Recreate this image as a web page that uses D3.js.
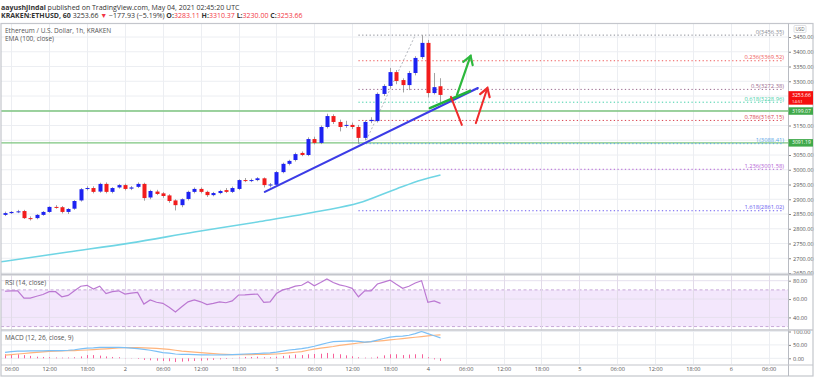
<!DOCTYPE html>
<html>
<head>
<meta charset="utf-8">
<script src="https://cdn.jsdelivr.net/npm/d3@7"></script>
<style>
body { margin: 0; background: #fff; }
svg { display: block; font-family: "Open Sans", "Noto Sans", sans-serif; }
</style>
</head>
<body>
<div id="chart"></div>
<script>

// ------- data -------

// hourly candles, first one is 2021-05-01 05:00 UTC : [open, high, low, close]
var candles = [
    [2847, 2858, 2843, 2853], [2853, 2860, 2850, 2857], [2857, 2864, 2853, 2859],
    [2860, 2864, 2833, 2836], [2836, 2842, 2828, 2835], [2836, 2850, 2832, 2847],
    [2847, 2860, 2844, 2857], [2857, 2876, 2854, 2874], [2874, 2880, 2868, 2873],
    [2873, 2877, 2852, 2857], [2857, 2870, 2850, 2867], [2868, 2897, 2864, 2894],
    [2896, 2938, 2892, 2934], [2935, 2944, 2930, 2938], [2938, 2944, 2920, 2925],
    [2926, 2956, 2922, 2952], [2952, 2957, 2920, 2925], [2925, 2941, 2920, 2938],
    [2940, 2952, 2936, 2948], [2948, 2953, 2930, 2935], [2936, 2945, 2931, 2940],
    [2942, 2957, 2938, 2952], [2952, 2956, 2895, 2904], [2906, 2932, 2900, 2928],
    [2926, 2932, 2914, 2918], [2920, 2924, 2905, 2911], [2913, 2917, 2888, 2894],
    [2896, 2900, 2862, 2880], [2880, 2903, 2873, 2900], [2901, 2929, 2896, 2925],
    [2925, 2940, 2920, 2935], [2935, 2940, 2920, 2925], [2925, 2929, 2908, 2914],
    [2914, 2925, 2910, 2921], [2921, 2932, 2917, 2928], [2931, 2938, 2921, 2925],
    [2925, 2943, 2921, 2938], [2935, 2968, 2931, 2965], [2965, 2972, 2958, 2963],
    [2963, 2970, 2958, 2965], [2965, 2975, 2961, 2971], [2971, 2974, 2940, 2948],
    [2948, 2955, 2940, 2950], [2949, 2996, 2945, 2992], [2992, 3024, 2988, 3020],
    [3020, 3034, 3015, 3030], [3033, 3058, 3028, 3053], [3057, 3062, 3046, 3050],
    [3050, 3110, 3046, 3104], [3104, 3112, 3086, 3091], [3091, 3150, 3087, 3145],
    [3145, 3190, 3140, 3182], [3182, 3188, 3155, 3162], [3162, 3170, 3130, 3145],
    [3150, 3166, 3142, 3152], [3152, 3160, 3138, 3145], [3145, 3152, 3088.41, 3108],
    [3108, 3168, 3100, 3162], [3165, 3178, 3158, 3169], [3165, 3262, 3160, 3257],
    [3257, 3290, 3250, 3284], [3284, 3345, 3278, 3331], [3331, 3338, 3290, 3301],
    [3304, 3310, 3262, 3287], [3287, 3335, 3270, 3328], [3328, 3385, 3320, 3379],
    [3382, 3456.35, 3375, 3430], [3430, 3440, 3245, 3260], [3260, 3328, 3255, 3280],
    [3283.11, 3310.37, 3230.00, 3253.66]
];
var change = -177.93, changePct = -5.19;

// EMA(100) sampled at candle indices
var ema100 = [[-2, 2684], [0, 2690], [10, 2721], [20, 2752], [30, 2789], [40, 2823],
              [50, 2860], [56, 2887], [62, 2935], [66, 2965], [69, 2982]];

var rsi = [68.5, 69, 69, 61, 61, 63, 65, 68, 68, 62.5, 64, 69, 74, 75, 71, 74, 66, 68,
           69, 65.5, 66.5, 67.3, 54.5, 59, 56.5, 55.3, 51, 46, 51.6, 57, 59, 57, 54,
           55.3, 57, 56, 58, 64.4, 64.5, 65, 65.5, 56.4, 57, 66, 70, 71.7, 74, 75,
           78.9, 74.5, 78, 81.8, 78, 75.5, 74, 71.7, 62.5, 69, 69, 76.4, 78.5, 80.7,
           76, 71.7, 74, 77.5, 80, 56.4, 58, 55.3];

var macd = [22, 25, 27, 27, 27.5, 28, 28, 28.6, 29, 29, 30, 32, 35, 38, 39, 41, 41, 41,
            40.5, 40, 38, 36, 33, 30, 26, 21, 19, 16, 15, 14.5, 14, 13, 12.5, 12.4, 12.5,
            13, 14, 15, 16, 17, 18, 19, 20, 23, 27, 31, 33, 36, 40, 45, 51, 57, 62, 63,
            64, 65, 63, 60, 62, 68, 74, 79, 82, 83, 86, 92, 100, 92, 84, 76];
var signal = [12, 14, 16, 18, 20, 22, 24, 25.5, 27, 28, 28.5, 29, 30, 31, 32.5, 34, 35.5,
              37, 38.5, 40, 40, 39.5, 39, 38, 37, 35, 33, 30, 27, 25, 23, 21, 19, 17.5,
              16, 15, 14, 13.5, 13.5, 14, 14.5, 15, 15.5, 16, 18, 20, 22.5, 25, 30, 34,
              38, 41, 44, 48, 51, 54, 57, 59.5, 62, 64, 66, 68.5, 71, 73.5, 76, 78.5, 81,
              84, 86, 87.6];
var hist = [15, 15, 15, 12, 9, 6, 5, 4, 3, 2.5, 3, 4, 7, 12, 12, 10, 7, 5, 4, 1, -1, -2.5,
            -6, -7.5, -9, -10, -11, -14, -12.5, -11, -10, -9, -7.5, -6, -4, -2.5, -1, 2.5,
            5, 5, 6, 4, 4, 6, 9, 11, 14, 12, 15, 16, 17, 20, 17, 15, 11, 7.5, 4, 2.5, 2.5,
            6, 11, 15, 15, 12, 14, 15, 15, 4, -4, -10];

// fibonacci retracement drawn from the 3 May low to the 4 May high
var fibLow = 3088.41, fibHigh = 3456.35;
var fibLevels = [0, 0.236, 0.5, 0.618, 0.786, 1, 1.236, 1.618];

// horizontal support lines
var supports = [3199.07, 3091.19];

var priceTicks = [3450, 3400, 3350, 3300, 3250, 3200, 3150, 3100, 3050, 3000,
                  2950, 2900, 2850, 2800, 2750, 2700, 2650];
var rsiTicks = [80, 60, 40];
var macdTicks = [100, 50, 0];

// hand drawn lines : [time, price]
var blueTrend = [["2021-05-02T22:10Z", 2925], ["2021-05-04T07:55Z", 3277]];
var greenSeg = [["2021-05-04T00:19Z", 3209], ["2021-05-04T06:40Z", 3267]];
var greenArrow = [["2021-05-04T04:36Z", 3253], ["2021-05-04T06:46Z", 3386]];
var redLine = [["2021-05-04T03:39Z", 3247], ["2021-05-04T05:23Z", 3152]];
var redArrow = [["2021-05-04T07:36Z", 3158], ["2021-05-04T09:26Z", 3277]];


// ------- layout -------

var W = 817, H = 379;
var axisX = 788;
var pane = {
    price: {top: 24, bot: 273},
    rsi: {top: 276, bot: 329},
    macd: {top: 331, bot: 364}
};

var t0 = Date.UTC(2021, 4, 1, 5);
function ctime(i) { return new Date(t0 + i * 3600e3); }

var x = d3.scaleUtc()
    .domain([new Date(Date.UTC(2021, 4, 1, 4, 12)), new Date(Date.UTC(2021, 4, 6, 9, 4))])
    .range([0, axisX]);
var y = d3.scaleLinear().domain([3450, 2650]).range([37, 273]);
var yr = d3.scaleLinear().domain([80, 40]).range([280.7, 317.4]);
var ym = d3.scaleLinear().domain([100, 0]).range([331.5, 358.3]);

var last = candles[candles.length - 1];

var svg = d3.select("#chart").append("svg")
    .attr("width", W)
    .attr("height", H);

var defs = svg.append("defs");
Object.keys(pane).forEach(function(k) {
    defs.append("clipPath").attr("id", "clip-" + k)
        .append("rect")
        .attr("x", 1).attr("y", pane[k].top)
        .attr("width", axisX - 1).attr("height", pane[k].bot - pane[k].top);
});
[["arr-green", "#2db83d"], ["arr-red", "#ef2b2b"]].forEach(function(m) {
    defs.append("marker")
        .attr("id", m[0])
        .attr("markerUnits", "userSpaceOnUse")
        .attr("viewBox", "-10 -6 12 12")
        .attr("refX", 0).attr("refY", 0)
        .attr("markerWidth", 12).attr("markerHeight", 12)
        .attr("orient", "auto")
        .append("path")
        .attr("d", "M-8,-5L0,0L-8,5")
        .attr("fill", "none")
        .attr("stroke", m[1])
        .attr("stroke-width", 2.2)
        .attr("stroke-linecap", "round");
});

// ------- header -------

var head = svg.append("g").attr("font-size", 7).attr("fill", "#333");
var l1 = head.append("text").attr("x", 1).attr("y", 10);
l1.append("tspan").attr("font-weight", "bold").text("aayushjindal");
l1.append("tspan").text(" published on TradingView.com, May 04, 2021 02:45:20 UTC");

var red = "#f23645";
var l2 = head.append("text").attr("x", 1).attr("y", 18);
l2.append("tspan").attr("font-weight", "bold").text("KRAKEN:ETHUSD, 60");
l2.append("tspan").text(" " + last[3].toFixed(2) + " ");
l2.append("tspan").attr("fill", red).text("\u25BC");
l2.append("tspan").text(" \u2212" + Math.abs(change).toFixed(2)
                        + " (\u2212" + Math.abs(changePct).toFixed(2) + "%) ");
[["O:", last[0]], ["H:", last[1]], ["L:", last[2]], ["C:", last[3]]].forEach(function(p, i) {
    l2.append("tspan").attr("font-weight", "bold").text((i ? " " : "") + p[0]);
    l2.append("tspan").attr("fill", red).text(p[1].toFixed(2));
});

// ------- grids -------

var grid = svg.append("g").attr("stroke", "#eceef2").attr("stroke-width", 1);
var vticks = x.ticks(d3.utcHour.every(6));
grid.selectAll(".vg").data(vticks).enter().append("line")
    .attr("x1", function(d) { return Math.round(x(d)) + .5; })
    .attr("x2", function(d) { return Math.round(x(d)) + .5; })
    .attr("y1", pane.price.top).attr("y2", pane.macd.bot);
grid.selectAll(".hg").data(priceTicks).enter().append("line")
    .attr("x1", 1).attr("x2", axisX)
    .attr("y1", function(d) { return y(d); }).attr("y2", function(d) { return y(d); });

// RSI band
var rg = svg.append("g").attr("clip-path", "url(#clip-rsi)");
rg.append("rect")
    .attr("x", 1).attr("width", axisX - 1)
    .attr("y", yr(70)).attr("height", yr(30) - yr(70))
    .attr("fill", "#f3e7fc");
rg.selectAll(".rgl").data(rsiTicks).enter().append("line")
    .attr("x1", 1).attr("x2", axisX)
    .attr("y1", function(d) { return yr(d); }).attr("y2", function(d) { return yr(d); })
    .attr("stroke", "#e6e0ee");
rg.selectAll(".rb").data([70, 30]).enter().append("line")
    .attr("x1", 1).attr("x2", axisX)
    .attr("y1", function(d) { return yr(d); }).attr("y2", function(d) { return yr(d); })
    .attr("stroke", "#c7a8d8").attr("stroke-dasharray", "3,2.5");
rg.selectAll(".rvg").data(vticks).enter().append("line")
    .attr("x1", function(d) { return Math.round(x(d)) + .5; })
    .attr("x2", function(d) { return Math.round(x(d)) + .5; })
    .attr("y1", pane.rsi.top).attr("y2", pane.rsi.bot)
    .attr("stroke", "#e2dbe9");

var mg = svg.append("g").attr("clip-path", "url(#clip-macd)");
mg.selectAll(".mgl").data(macdTicks).enter().append("line")
    .attr("x1", 1).attr("x2", axisX)
    .attr("y1", function(d) { return ym(d); }).attr("y2", function(d) { return ym(d); })
    .attr("stroke", "#eceef2");

// ------- price pane -------

var pg = svg.append("g").attr("clip-path", "url(#clip-price)");

// support lines
pg.selectAll(".sup").data(supports).enter().append("line")
    .attr("x1", 1).attr("x2", axisX)
    .attr("y1", function(d) { return y(d); }).attr("y2", function(d) { return y(d); })
    .attr("stroke", "#7cc57f").attr("stroke-width", 1.3);

// fibonacci
var fibColors = ["#8a8d96", "#ef5a5a", "#9b6a8f", "#3fcfa8", "#d9434f",
                 "#5aa8e8", "#b463d6", "#6a5cf0"];
var fibX1 = x(ctime(56)), fibX2 = 784;
var fib = pg.append("g");
fibLevels.forEach(function(l, i) {
    var p = fibHigh - l * (fibHigh - fibLow);
    fib.append("line")
        .attr("x1", fibX1).attr("x2", fibX2)
        .attr("y1", y(p)).attr("y2", y(p))
        .attr("stroke", fibColors[i])
        .attr("stroke-width", 1)
        .attr("stroke-dasharray", "1.3,2.4");
    fib.append("text")
        .attr("x", fibX2).attr("y", y(p) - 1.5)
        .attr("text-anchor", "end")
        .attr("font-size", 5.8)
        .attr("fill", fibColors[i])
        .text(l + "(" + p.toFixed(2) + ")");
});
fib.append("line")
    .attr("x1", x(ctime(57))).attr("y1", y(fibLow))
    .attr("x2", x(ctime(65))).attr("y2", y(fibHigh))
    .attr("stroke", "#a0a3ab").attr("stroke-width", 0.8)
    .attr("stroke-dasharray", "2,2");

// EMA 100
pg.append("path")
    .datum(ema100)
    .attr("fill", "none")
    .attr("stroke", "#6fd5e4")
    .attr("stroke-width", 1.6)
    .attr("d", d3.line()
          .x(function(d) { return x(ctime(d[0])); })
          .y(function(d) { return y(d[1]); })
          .curve(d3.curveMonotoneX));

// candles
var up = "#1d22f2", down = "#f21c1c";
var cg = pg.selectAll(".candle").data(candles).enter().append("g");
cg.append("line")
    .attr("x1", function(d, i) { return Math.round(x(ctime(i))) + .5; })
    .attr("x2", function(d, i) { return Math.round(x(ctime(i))) + .5; })
    .attr("y1", function(d) { return y(d[1]); })
    .attr("y2", function(d) { return y(d[2]); })
    .attr("stroke", "#8c8c8c").attr("stroke-width", 0.8);
cg.append("rect")
    .attr("x", function(d, i) { return Math.round(x(ctime(i))) - 1.5; })
    .attr("width", 4)
    .attr("y", function(d) { return y(Math.max(d[0], d[3])); })
    .attr("height", function(d) { return Math.max(1, Math.abs(y(d[0]) - y(d[3]))); })
    .attr("fill", function(d) { return d[3] >= d[0] ? up : down; });

// hand drawn lines
function seg(pts) {
    return pts.map(function(p) { return [x(new Date(p[0])), y(p[1])]; });
}
function drawSeg(pts, color, w, marker) {
    var s = seg(pts);
    var l = pg.append("line")
        .attr("x1", s[0][0]).attr("y1", s[0][1])
        .attr("x2", s[1][0]).attr("y2", s[1][1])
        .attr("stroke", color).attr("stroke-width", w)
        .attr("stroke-linecap", "round");
    if (marker) l.attr("marker-end", "url(#" + marker + ")");
}
drawSeg(blueTrend, "#3c3ce6", 2.2);
drawSeg(greenSeg, "#22b33a", 2.6);
drawSeg(greenArrow, "#2db83d", 2.2, "arr-green");
drawSeg(redLine, "#ef2b2b", 2);
drawSeg(redArrow, "#ef2b2b", 2, "arr-red");

// legends
var leg = svg.append("g").attr("font-size", 6.5).attr("fill", "#555");
leg.append("text").attr("x", 5).attr("y", 33).text("Ethereum / U.S. Dollar, 1h, KRAKEN");
leg.append("text").attr("x", 5).attr("y", 41).text("EMA (100, close)");
leg.append("text").attr("x", 5).attr("y", 284.5).text("RSI (14, close)");
leg.append("text").attr("x", 5).attr("y", 339.5).text("MACD (12, 26, close, 9)");

// ------- RSI -------

rg.append("path")
    .datum(rsi)
    .attr("fill", "none")
    .attr("stroke", "#bb78d2")
    .attr("stroke-width", 1.2)
    .attr("d", d3.line()
          .x(function(d, i) { return x(ctime(i)); })
          .y(function(d) { return yr(d); }));

// ------- MACD -------

mg.selectAll(".hb").data(hist).enter().append("line")
    .attr("x1", function(d, i) { return Math.round(x(ctime(i))) + .5; })
    .attr("x2", function(d, i) { return Math.round(x(ctime(i))) + .5; })
    .attr("y1", ym(0))
    .attr("y2", function(d) { return ym(d); })
    .attr("stroke", "#f7609a").attr("stroke-width", 1);
mg.append("path")
    .datum(signal)
    .attr("fill", "none").attr("stroke", "#ffb47c").attr("stroke-width", 1.2)
    .attr("d", d3.line()
          .x(function(d, i) { return x(ctime(i)); })
          .y(function(d) { return ym(d); }));
mg.append("path")
    .datum(macd)
    .attr("fill", "none").attr("stroke", "#7cc0f6").attr("stroke-width", 1.2)
    .attr("d", d3.line()
          .x(function(d, i) { return x(ctime(i)); })
          .y(function(d) { return ym(d); }));

// ------- axes -------

function styleAxis(g) {
    g.select(".domain").remove();
    g.selectAll("text").attr("fill", "#555").attr("font-size", 5.6)
        .attr("font-family", "'Open Sans', 'Noto Sans', sans-serif");
    g.selectAll("line").attr("stroke", "#888");
}

// price labels hidden behind the tags are left out
var tagPrices = [last[3]].concat(supports);
var shownTicks = priceTicks.filter(function(t) {
    return tagPrices.every(function(p) { return Math.abs(y(t) - y(p)) > 7; });
});

svg.append("g")
    .attr("transform", "translate(" + axisX + ",0)")
    .call(d3.axisRight(y).tickValues(shownTicks).tickSize(3).tickPadding(2)
          .tickFormat(d3.format(".2f")))
    .call(styleAxis);
svg.append("g")
    .attr("transform", "translate(" + axisX + ",0)")
    .call(d3.axisRight(yr).tickValues(rsiTicks).tickSize(3).tickPadding(2)
          .tickFormat(d3.format(".2f")))
    .call(styleAxis);
svg.append("g")
    .attr("transform", "translate(" + axisX + ",0)")
    .call(d3.axisRight(ym).tickValues(macdTicks).tickSize(3).tickPadding(2)
          .tickFormat(d3.format(".2f")))
    .call(styleAxis);

svg.append("g")
    .attr("transform", "translate(0," + (pane.macd.bot + 1) + ")")
    .call(d3.axisBottom(x).tickValues(vticks).tickSize(0).tickPadding(2.5)
          .tickFormat(function(d) {
              return d.getUTCHours() == 0 ? d.getUTCDate() : d3.utcFormat("%H:%M")(d);
          }))
    .call(styleAxis);

// ------- frame / separators -------

var fr = svg.append("g").attr("fill", "none");
fr.append("rect")
    .attr("x", 1).attr("y", 23.5).attr("width", 812).attr("height", 352.5)
    .attr("stroke", "#c4c6cc").attr("stroke-width", 1.2);
fr.append("line").attr("x1", axisX + .5).attr("x2", axisX + .5)
    .attr("y1", 23.5).attr("y2", 376).attr("stroke", "#b8bbc2");
[[274.5, 2], [330, 1.5], [365, 1.2]].forEach(function(s) {
    fr.append("line").attr("x1", 1).attr("x2", 813)
        .attr("y1", s[0]).attr("y2", s[0])
        .attr("stroke", "#c4c6cc").attr("stroke-width", s[1]);
});

// USD badge
svg.append("rect").attr("x", 794).attr("y", 25.5).attr("width", 12).attr("height", 7)
    .attr("fill", "#fff").attr("stroke", "#c8cad0").attr("stroke-width", .6).attr("rx", 1);
svg.append("text").attr("x", 800).attr("y", 30.8).attr("text-anchor", "middle")
    .attr("font-size", 4.6).attr("fill", "#666").text("USD");

// price tags
function tag(price, color, lines) {
    var h = lines.length > 1 ? 13.5 : 7.5;
    var ty = y(price) - 3.75;
    svg.append("rect").attr("x", axisX + .5).attr("y", ty)
        .attr("width", 24.5).attr("height", h).attr("fill", color);
    lines.forEach(function(t, i) {
        svg.append("text").attr("x", axisX + 4).attr("y", ty + 5.4 + i * 6.2)
            .attr("font-size", i ? 4.2 : 5.1).attr("fill", "#fff").text(t);
    });
}
tag(last[3], "#f50f0f", [last[3].toFixed(2), "14:51"]);
supports.forEach(function(s) { tag(s, "#3fa94a", [s.toFixed(2)]); });

</script>
</body>
</html>
